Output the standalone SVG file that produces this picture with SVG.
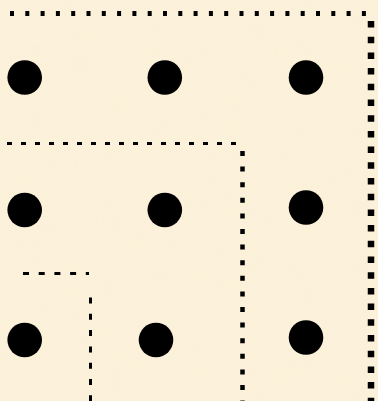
<svg xmlns="http://www.w3.org/2000/svg" width="378" height="401" viewBox="0 0 378 401">
<style>
.dot{fill:#000}
.ln{stroke:#000;fill:none}
</style>
<defs>
<filter id="tex" x="0" y="0" width="100%" height="100%">
<feTurbulence type="fractalNoise" baseFrequency="0.02" numOctaves="3" seed="4"/>
<feColorMatrix type="matrix" values="0 0 0 0 0.93  0 0 0 0 0.85  0 0 0 0 0.66  0 0 0 0.35 0"/>
</filter>
</defs>
<rect width="378" height="401" fill="#FCF1DA"/>
<rect width="378" height="401" filter="url(#tex)" opacity="0.5"/>
<g id="connectors">
<line class="ln" x1="10" y1="13.5" x2="372" y2="13.5" stroke-width="5" stroke-dasharray="4 11.3"/>
<line class="ln" x1="371" y1="21" x2="371" y2="401" stroke-width="6.5" stroke-dasharray="6.5 9.2"/>
<line class="ln" x1="7" y1="143.5" x2="245" y2="143.5" stroke-width="3" stroke-dasharray="5 9"/>
<line class="ln" x1="242.5" y1="151" x2="242.5" y2="401" stroke-width="4.5" stroke-dasharray="5 10.6"/>
<line class="ln" x1="23" y1="273.5" x2="89" y2="273.5" stroke-width="3" stroke-dasharray="6 9.7"/>
<line class="ln" x1="90.5" y1="297.5" x2="90.5" y2="401" stroke-width="3" stroke-dasharray="6 10.3"/>
</g>
<g id="n11"><circle class="dot" cx="24.7" cy="77.5" r="17.3"/></g>
<g id="n12"><circle class="dot" cx="164.8" cy="77.5" r="17.3"/></g>
<g id="n13"><circle class="dot" cx="306" cy="77.5" r="17.3"/></g>
<g id="n21"><circle class="dot" cx="24.7" cy="210" r="17.3"/></g>
<g id="n22"><circle class="dot" cx="164.8" cy="210" r="17.3"/></g>
<g id="n23"><circle class="dot" cx="306" cy="207.5" r="17.3"/></g>
<g id="n31"><circle class="dot" cx="24.7" cy="340" r="17.3"/></g>
<g id="n32"><circle class="dot" cx="156" cy="340" r="17.3"/></g>
<g id="n33"><circle class="dot" cx="306" cy="337.5" r="17.3"/></g>
</svg>
